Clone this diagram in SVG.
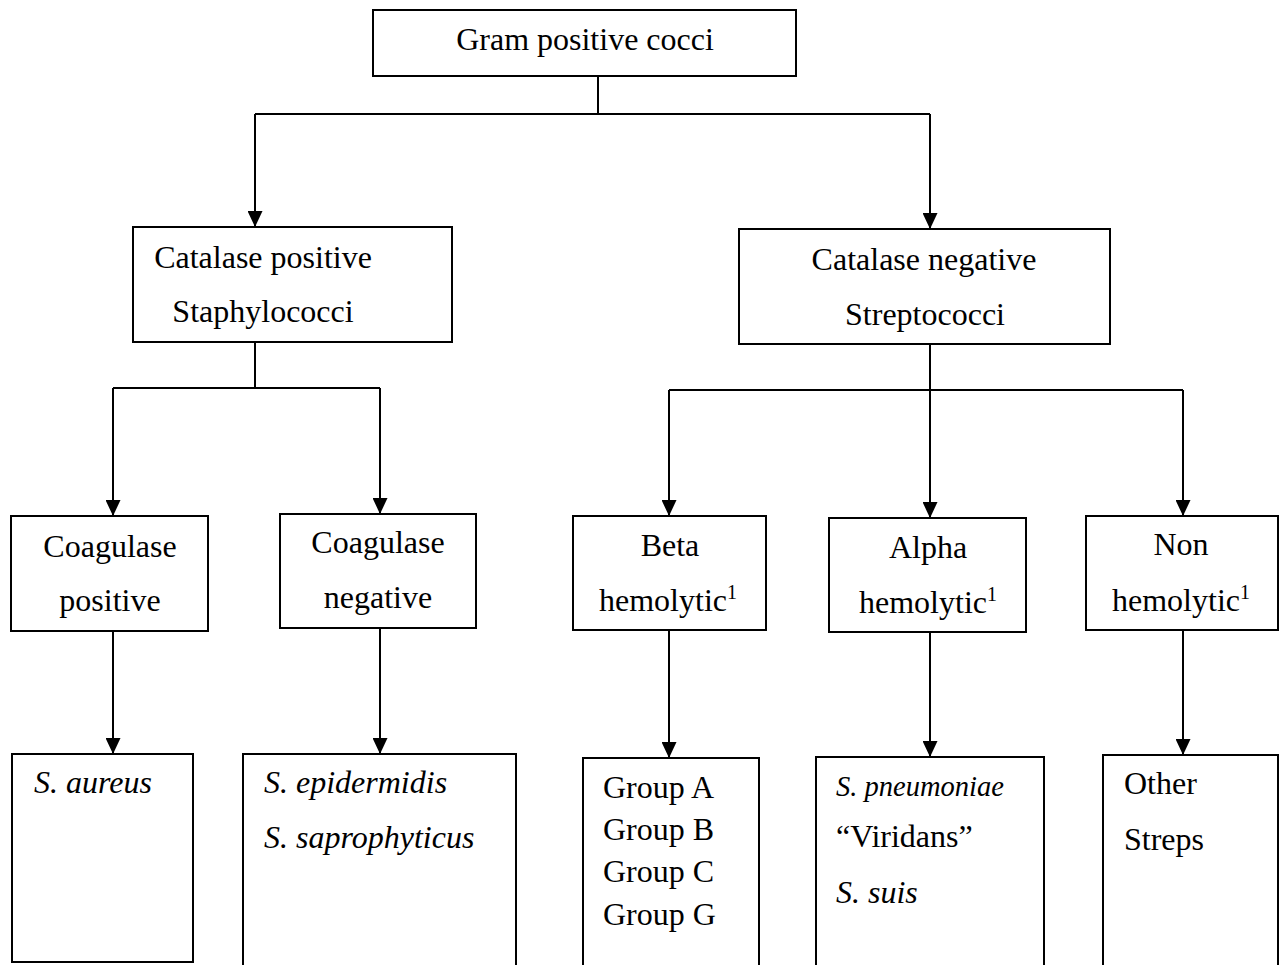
<svg xmlns="http://www.w3.org/2000/svg" width="1285" height="965" viewBox="0 0 1285 965">
<style>
.box{fill:#fff;stroke:#000;stroke-width:2}
.ln{fill:none;stroke:#000;stroke-width:2}
.ar{fill:none;stroke:#000;stroke-width:2;marker-end:url(#ah)}
text{font-family:"Liberation Serif","Times New Roman",serif;font-size:32px;fill:#000}
.c{text-anchor:middle}
.i{font-style:italic}
.sup{font-size:20px}
</style>
<defs>
<marker id="ah" viewBox="0 0 16 15" refX="16" refY="7.5" markerWidth="16" markerHeight="15" markerUnits="userSpaceOnUse" orient="auto">
<path d="M0,0 L16,7.5 L0,15 Z" fill="#000"/>
</marker>
</defs>
<rect width="1285" height="965" fill="#fff"/>
<g id="connectors">
<path class="ln" d="M598,76 V114 M255,114 H930"/>
<path class="ar" d="M255,114 V227"/>
<path class="ar" d="M930,114 V229"/>
<path class="ln" d="M255,342 V388 M113,388 H380"/>
<path class="ar" d="M113,388 V516"/>
<path class="ar" d="M380,388 V514"/>
<path class="ln" d="M669,390 H1183"/>
<path class="ar" d="M930,344 V518"/>
<path class="ar" d="M669,390 V516"/>
<path class="ar" d="M1183,390 V516"/>
<path class="ar" d="M113,631 V754"/>
<path class="ar" d="M380,628 V754"/>
<path class="ar" d="M669,630 V758"/>
<path class="ar" d="M930,632 V757"/>
<path class="ar" d="M1183,630 V755"/>
</g>
<g id="gram">
<rect class="box" x="373" y="10" width="423" height="66"/>
<text class="c" x="585" y="50">Gram positive cocci</text>
</g>
<g id="catpos">
<rect class="box" x="133" y="227" width="319" height="115"/>
<text class="c" x="263" y="268">Catalase positive</text>
<text class="c" x="263" y="322">Staphylococci</text>
</g>
<g id="catneg">
<rect class="box" x="739" y="229" width="371" height="115"/>
<text class="c" x="924" y="270">Catalase negative</text>
<text class="c" x="925" y="325">Streptococci</text>
</g>
<g id="coagpos">
<rect class="box" x="11" y="516" width="197" height="115"/>
<text class="c" x="110" y="557">Coagulase</text>
<text class="c" x="110" y="611">positive</text>
</g>
<g id="coagneg">
<rect class="box" x="280" y="514" width="196" height="114"/>
<text class="c" x="378" y="553">Coagulase</text>
<text class="c" x="378" y="608">negative</text>
</g>
<g id="beta">
<rect class="box" x="573" y="516" width="193" height="114"/>
<text class="c" x="670" y="556">Beta</text>
<text class="c" x="668" y="611">hemolytic<tspan class="sup" dy="-12">1</tspan></text>
</g>
<g id="alpha">
<rect class="box" x="829" y="518" width="197" height="114"/>
<text class="c" x="928" y="558">Alpha</text>
<text class="c" x="928" y="613">hemolytic<tspan class="sup" dy="-12">1</tspan></text>
</g>
<g id="non">
<rect class="box" x="1086" y="516" width="192" height="114"/>
<text class="c" x="1181" y="555">Non</text>
<text class="c" x="1181" y="611">hemolytic<tspan class="sup" dy="-12">1</tspan></text>
</g>
<g id="aureus">
<rect class="box" x="12" y="754" width="181" height="208"/>
<text class="i" x="34" y="793">S. aureus</text>
</g>
<g id="epid">
<rect class="box" x="243" y="754" width="273" height="230"/>
<text class="i" x="264" y="793">S. epidermidis</text>
<text class="i" x="264" y="848">S. saprophyticus</text>
</g>
<g id="groups">
<rect class="box" x="583" y="758" width="176" height="230"/>
<text x="603" y="798">Group A</text>
<text x="603" y="840">Group B</text>
<text x="603" y="882">Group C</text>
<text x="603" y="925">Group G</text>
</g>
<g id="viridans">
<rect class="box" x="816" y="757" width="228" height="230"/>
<text class="i" x="836" y="796" style="font-size:28.5px">S. pneumoniae</text>
<text x="836" y="847">“Viridans”</text>
<text class="i" x="836" y="903">S. suis</text>
</g>
<g id="other">
<rect class="box" x="1103" y="755" width="175" height="230"/>
<text x="1124" y="794">Other</text>
<text x="1124" y="850">Streps</text>
</g>
</svg>
